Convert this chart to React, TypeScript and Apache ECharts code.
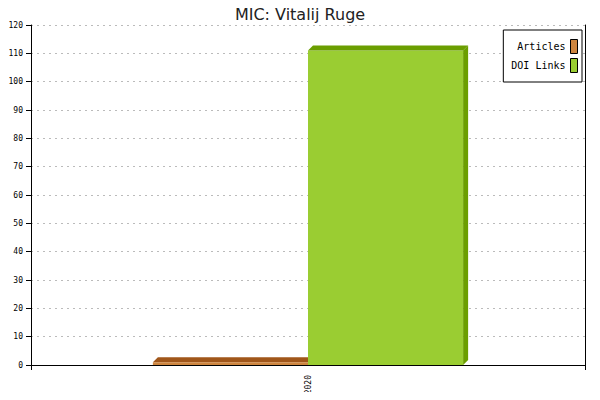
import { useEffect, useRef } from 'react'
import * as echarts from 'echarts'

const years = ['2020']
const articles = [1]
const doiLinks = [111]

const DEPTH = 5
const BAR_RATIO = 0.28

export default function App() {
  const chartRef = useRef<HTMLDivElement>(null)

  useEffect(() => {
    if (!chartRef.current) return
    const chart = echarts.init(chartRef.current, null, { renderer: 'svg' })

    // 3D top/side faces drawn on top of the plain bars
    const makeFaces = (side: number, topColor: string) => (params: any, api: any) => {
      const v = api.value(1)
      const band = api.size([1, 0])[0]
      const w = band * BAR_RATIO
      const top = api.coord([api.value(0), v])
      const base = api.coord([api.value(0), 0])
      const x0 = side < 0 ? top[0] - w : top[0]
      const x1 = x0 + w
      const y = top[1]
      const d = DEPTH
      return {
        type: 'group',
        children: [
          {
            type: 'polygon',
            shape: { points: [[x0, y], [x0 + d, y - d], [x1 + d, y - d], [x1, y]] },
            style: { fill: topColor }
          },
          {
            type: 'polygon',
            shape: { points: [[x1, y], [x1 + d, y - d], [x1 + d, base[1] - d], [x1, base[1]]] },
            style: { fill: topColor }
          }
        ]
      }
    }

    const mono = 'DejaVu Sans Mono'

    const option: echarts.EChartsOption = {
      animation: false,
      title: {
        text: 'MIC: Vitalij Ruge',
        left: 'center',
        top: 1,
        textStyle: { fontFamily: 'DejaVu Sans', fontSize: 16, fontWeight: 'normal', color: '#222' }
      },
      legend: {
        data: ['Articles', 'DOI Links'],
        orient: 'vertical',
        align: 'right',
        right: 18,
        top: 30,
        padding: [9, 4, 9, 8],
        itemGap: 4,
        itemWidth: 7,
        itemHeight: 14,
        borderColor: '#000',
        borderWidth: 1,
        backgroundColor: '#fff',
        icon: 'rect',
        itemStyle: { borderColor: '#000', borderWidth: 1 },
        textStyle: { fontFamily: mono, fontSize: 10, color: '#000' }
      },
      grid: { left: 31, right: 15, top: 25, bottom: 35 },
      xAxis: {
        type: 'category',
        data: years,
        axisLine: { lineStyle: { color: '#000' } },
        axisTick: { show: true, length: 5, lineStyle: { color: '#000' } },
        axisLabel: { rotate: 90, fontFamily: mono, fontSize: 8, color: '#000', margin: 10 }
      },
      yAxis: [
        {
          type: 'value',
          min: 0,
          max: 120,
          interval: 10,
          axisLine: { show: true, lineStyle: { color: '#000' } },
          axisTick: { show: true, length: 5, lineStyle: { color: '#000' } },
          axisLabel: { fontFamily: mono, fontSize: 8, color: '#000', margin: 8 },
          splitLine: { show: true, lineStyle: { color: '#bbb', type: [2, 4] } }
        },
        {
          type: 'value',
          min: 0,
          max: 120,
          interval: 10,
          position: 'right',
          axisLine: { show: true, lineStyle: { color: '#000' } },
          axisTick: { show: false },
          axisLabel: { show: false },
          splitLine: { show: false }
        }
      ],
      series: [
        {
          type: 'custom',
          z: 1,
          silent: true,
          renderItem: makeFaces(-1, '#a0561a') as any,
          data: articles.map((v, i) => [i, v])
        },
        {
          name: 'Articles',
          type: 'bar',
          z: 2,
          barWidth: BAR_RATIO * 100 + '%',
          barGap: '0%',
          itemStyle: { color: '#cd853f' },
          data: articles
        },
        {
          name: 'DOI Links',
          type: 'bar',
          z: 2,
          barWidth: BAR_RATIO * 100 + '%',
          barGap: '0%',
          itemStyle: { color: '#9acd32' },
          data: doiLinks
        },
        {
          type: 'custom',
          z: 3,
          silent: true,
          renderItem: makeFaces(1, '#6b9e00') as any,
          data: doiLinks.map((v, i) => [i, v])
        }
      ]
    }

    chart.setOption(option)
    return () => chart.dispose()
  }, [])

  return <div ref={chartRef} style={{ width: 600, height: 400, margin: -8 }} />
}
